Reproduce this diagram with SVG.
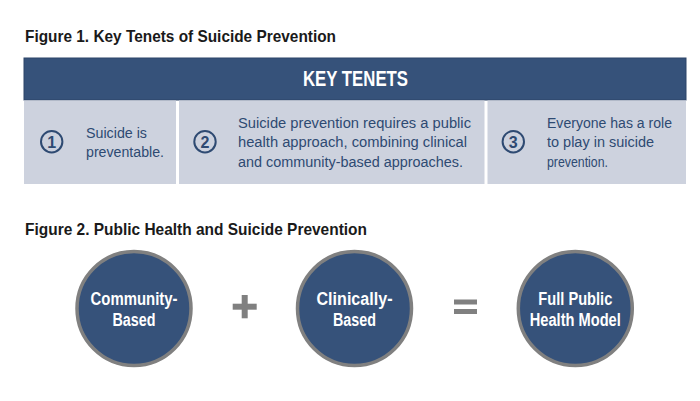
<svg xmlns="http://www.w3.org/2000/svg" width="700" height="401" viewBox="0 0 700 401">
<style>
.title{font-family:"Liberation Sans Narrow","Liberation Sans",Arial,sans-serif;font-weight:bold;font-size:16.5px;fill:#1a1a1a}
.hdr{font-family:"Liberation Sans Narrow","Liberation Sans",Arial,sans-serif;font-weight:bold;font-size:22.5px;fill:#ffffff}
.cell{fill:#cdd2de}
.ct{font-family:"Liberation Sans Narrow","Liberation Sans",Arial,sans-serif;font-size:15.5px;fill:#2e4a72}
.num{fill:none;stroke:#2e4a72;stroke-width:2}
.nt{font-family:"Liberation Sans Narrow","Liberation Sans",Arial,sans-serif;font-weight:bold;font-size:16px;fill:#2e4a72;text-anchor:middle}
.big{fill:#36527a;stroke:#808080;stroke-width:3.5}
.bt{font-family:"Liberation Sans Narrow","Liberation Sans",Arial,sans-serif;font-weight:bold;font-size:17.5px;fill:#ffffff;text-anchor:middle}
.op{fill:#808080}
</style>
<rect width="700" height="401" fill="#ffffff"/>
<text class="title" x="25" y="42" textLength="311" lengthAdjust="spacingAndGlyphs">Figure 1. Key Tenets of Suicide Prevention</text>
<g id="header">
<rect x="24" y="58" width="662" height="42" fill="#36527a" stroke="#2c4569" stroke-width="1"/>
<text class="hdr" x="303" y="86" textLength="105" lengthAdjust="spacingAndGlyphs">KEY TENETS</text>
</g>
<g id="tenet1">
<rect class="cell" x="24" y="100.5" width="152" height="83.5"/>
<circle class="num" cx="51.7" cy="141.7" r="10.7"/>
<text class="nt" x="51.7" y="147.5">1</text>
<text class="ct" x="86" y="138" textLength="61" lengthAdjust="spacingAndGlyphs">Suicide is</text>
<text class="ct" x="86" y="157" textLength="78" lengthAdjust="spacingAndGlyphs">preventable.</text>
</g>
<g id="tenet2">
<rect class="cell" x="179" y="100.5" width="305.5" height="83.5"/>
<circle class="num" cx="205" cy="141.7" r="10.7"/>
<text class="nt" x="205" y="147.5">2</text>
<text class="ct" x="238" y="127.5" textLength="233" lengthAdjust="spacingAndGlyphs">Suicide prevention requires a public</text>
<text class="ct" x="238" y="147" textLength="229" lengthAdjust="spacingAndGlyphs">health approach, combining clinical</text>
<text class="ct" x="238" y="166.7" textLength="225" lengthAdjust="spacingAndGlyphs">and community-based approaches.</text>
</g>
<g id="tenet3">
<rect class="cell" x="487.5" y="100.5" width="198.5" height="83.5"/>
<circle class="num" cx="513.3" cy="141.7" r="10.7"/>
<text class="nt" x="513.3" y="147.5">3</text>
<text class="ct" x="547" y="127.5" textLength="125" lengthAdjust="spacingAndGlyphs">Everyone has a role</text>
<text class="ct" x="547" y="147" textLength="107" lengthAdjust="spacingAndGlyphs">to play in suicide</text>
<text class="ct" x="547" y="166.7" textLength="61" lengthAdjust="spacingAndGlyphs">prevention.</text>
</g>
<text class="title" x="25" y="235" textLength="342" lengthAdjust="spacingAndGlyphs">Figure 2. Public Health and Suicide Prevention</text>
<g id="community">
<circle class="big" cx="134" cy="308.5" r="57"/>
<text class="bt" x="134" y="305" textLength="87" lengthAdjust="spacingAndGlyphs">Community-</text>
<text class="bt" x="134" y="326" textLength="43" lengthAdjust="spacingAndGlyphs">Based</text>
</g>
<g id="clinical">
<circle class="big" cx="354.5" cy="308.5" r="57"/>
<text class="bt" x="354.5" y="305" textLength="76" lengthAdjust="spacingAndGlyphs">Clinically-</text>
<text class="bt" x="354.5" y="326" textLength="43" lengthAdjust="spacingAndGlyphs">Based</text>
</g>
<g id="full">
<circle class="big" cx="575.3" cy="308.5" r="57"/>
<text class="bt" x="575.3" y="305" textLength="74" lengthAdjust="spacingAndGlyphs">Full Public</text>
<text class="bt" x="575.3" y="326" textLength="91" lengthAdjust="spacingAndGlyphs">Health Model</text>
</g>
<g id="connectors">
<rect class="op" x="232.7" y="303.7" width="24" height="6"/>
<rect class="op" x="241.7" y="295" width="6" height="23.3"/>
<rect class="op" x="454" y="299.5" width="23" height="5"/>
<rect class="op" x="454" y="309" width="23" height="5"/>
</g>
</svg>
